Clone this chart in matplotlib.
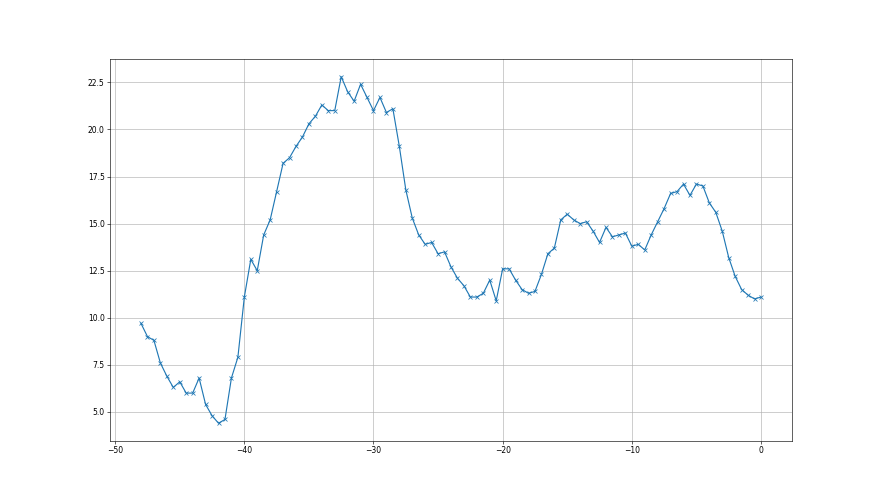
import matplotlib
matplotlib.use("Agg")
import matplotlib.pyplot as plt
import numpy as np

# time offsets, half-step grid from -48 to 0
t = np.arange(-48, 0.5, 0.5)

values = [
    9.7, 9.0, 8.8, 7.6, 6.9, 6.3, 6.6, 6.0, 6.0, 6.8,
    5.4, 4.8, 4.4, 4.6, 6.8, 7.9, 11.1, 13.1, 12.5, 14.4,
    15.2, 16.7, 18.2, 18.5, 19.1, 19.6, 20.3, 20.7, 21.3, 21.0,
    21.0, 22.8, 22.0, 21.5, 22.4, 21.7, 21.0, 21.7, 20.9, 21.1,
    19.1, 16.8, 15.3, 14.4, 13.9, 14.0, 13.4, 13.5, 12.7, 12.1,
    11.7, 11.1, 11.1, 11.3, 12.0, 10.9, 12.6, 12.6, 12.0, 11.5,
    11.3, 11.4, 12.3, 13.4, 13.7, 15.2, 15.5, 15.2, 15.0, 15.1,
    14.6, 14.0, 14.8, 14.3, 14.4, 14.5, 13.8, 13.9, 13.6, 14.4,
    15.1, 15.8, 16.6, 16.7, 17.1, 16.5, 17.1, 17.0, 16.1, 15.6,
    14.6, 13.2, 12.2, 11.5, 11.2, 11.0, 11.1,
]

fig, ax = plt.subplots(figsize=(16, 9), dpi=55)
ax.plot(t, values, marker="x")
ax.grid(True)

fig.savefig("out.png", dpi=55)
